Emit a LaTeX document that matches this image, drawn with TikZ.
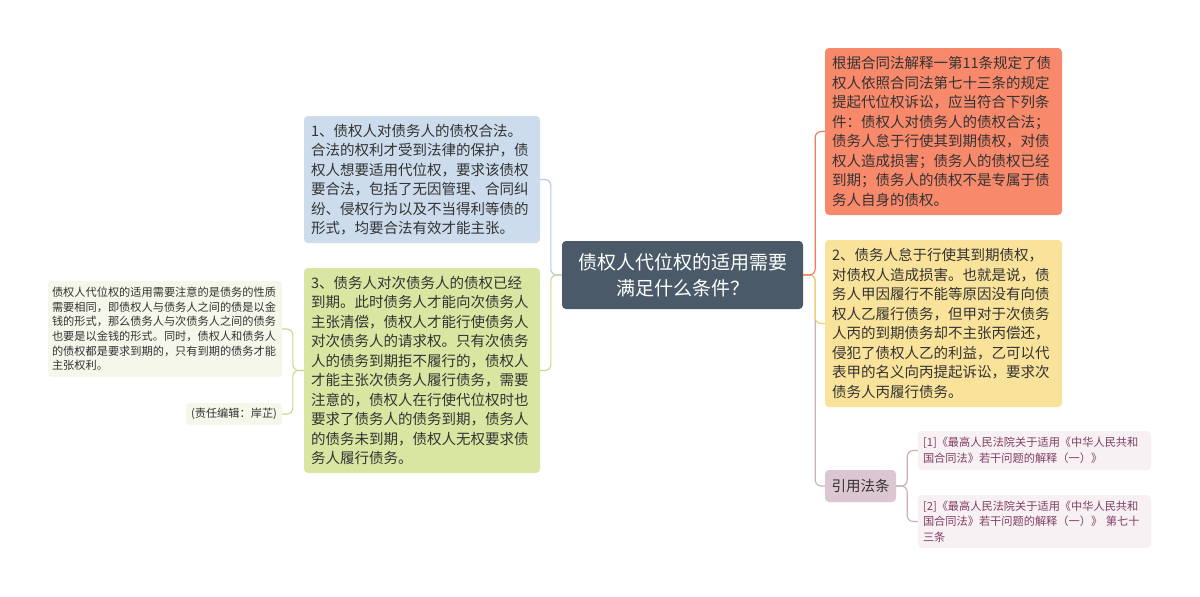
\documentclass[tikz,border=0pt]{standalone}
\usepackage{fontspec}
\setmainfont{Noto Sans CJK SC}
\definecolor{cCenter}{HTML}{4A5A68}
\definecolor{cBlue}{HTML}{CCDCEC}
\definecolor{cGreen}{HTML}{D8E6A2}
\definecolor{cRed}{HTML}{F8896B}
\definecolor{cYellow}{HTML}{F9E29A}
\definecolor{cMauve}{HTML}{DCC6D1}
\definecolor{cRefBg}{HTML}{F8F1F4}
\definecolor{cNoteBg}{HTML}{F5F7EA}
\definecolor{cText}{HTML}{333333}
\definecolor{cRefText}{HTML}{803E62}
\definecolor{lBlue}{HTML}{B4CBE2}
\definecolor{lGreen}{HTML}{C9DA8C}
\definecolor{lRed}{HTML}{F07A5C}
\definecolor{lYellow}{HTML}{F2CF6A}
\definecolor{lMauve}{HTML}{CCAEBD}
\begin{document}
\begin{tikzpicture}[x=1pt,y=-1pt,
  box/.style={rounded corners=4pt, inner xsep=7pt, inner ysep=0pt, align=left, text=cText, anchor=center, font=\fontsize{14.5}{19.5}\selectfont},
  small/.style={rounded corners=4pt, inner xsep=5pt, inner ysep=0pt, align=left, anchor=center, font=\fontsize{11.2}{15.5}\selectfont},
  link/.style={line width=1.1pt, rounded corners=6pt}]
\useasboundingbox (0,0) rectangle (1200,597);
\fill[white] (0,0) rectangle (1200,597);

% center
\node[rounded corners=4pt, fill=cCenter, text=white, align=center, minimum width=241pt, minimum height=68pt, inner sep=0pt, font=\fontsize{19}{26}\selectfont] (c) at (682.5,275) {债权人代位权的适用需要\\满足什么条件？};

% left
\node[box, fill=cBlue, text width=222pt, minimum height=127pt] (n1) at (422,179.5) {1、债权人对债务人的债权合法。\\合法的权利才受到法律的保护，债\\权人想要适用代位权，要求该债权\\要合法，包括了无因管理、合同纠\\纷、侵权行为以及不当得利等债的\\形式，均要合法有效才能主张。};
\node[box, fill=cGreen, text width=222pt, minimum height=205pt] (n3) at (422,370.5) {3、债务人对次债务人的债权已经\\到期。此时债务人才能向次债务人\\主张清偿，债权人才能行使债务人\\对次债务人的请求权。只有次债务\\人的债务到期拒不履行的，债权人\\才能主张次债务人履行债务，需要\\注意的，债权人在行使代位权时也\\要求了债务人的债务到期，债务人\\的债务未到期，债权人无权要求债\\务人履行债务。};
\node[small, fill=cNoteBg, text=cText, text width=226pt, inner xsep=4pt, minimum height=96pt, font=\fontsize{11.2}{14.6}\selectfont] (note) at (165,329) {债权人代位权的适用需要注意的是债务的性质\\需要相同，即债权人与债务人之间的债是以金\\钱的形式，那么债务人与次债务人之间的债务\\也要是以金钱的形式。同时，债权人和债务人\\的债权都是要求到期的，只有到期的债务才能\\主张权利。};
\node[small, fill=cNoteBg, text=cText, minimum width=96pt, minimum height=22pt, align=center, font=\fontsize{11.2}{14}\selectfont] (ed) at (234,414) {(责任编辑：岸芷)};

% right
\node[box, fill=cRed, text width=223pt, minimum height=167pt] (r1) at (943.5,131.5) {根据合同法解释一第11条规定了债\\权人依照合同法第七十三条的规定\\提起代位权诉讼，应当符合下列条\\件：债权人对债务人的债权合法；\\债务人怠于行使其到期债权，对债\\权人造成损害；债务人的债权已经\\到期；债务人的债权不是专属于债\\务人自身的债权。};
\node[box, fill=cYellow, text width=223pt, minimum height=167pt] (r2) at (943.5,323.5) {2、债务人怠于行使其到期债权，\\对债权人造成损害。也就是说，债\\务人甲因履行不能等原因没有向债\\权人乙履行债务，但甲对于次债务\\人丙的到期债务却不主张丙偿还，\\侵犯了债权人乙的利益，乙可以代\\表甲的名义向丙提起诉讼，要求次\\债务人丙履行债务。};
\node[box, fill=cMauve, inner xsep=0pt, minimum width=71pt, minimum height=32pt, align=center] (yf) at (860.5,486) {引用法条};
\node[small, fill=cRefBg, text=cRefText, text width=223pt, minimum height=39pt] (f1) at (1034.5,450.5) {[1]《最高人民法院关于适用《中华人民共和\\国合同法》若干问题的解释（一）》};
\node[small, fill=cRefBg, text=cRefText, text width=223pt, minimum height=53pt] (f2) at (1034.5,521.5) {[2]《最高人民法院关于适用《中华人民共和\\国合同法》若干问题的解释（一）》 第七十\\三条};

% connectors
\draw[link, draw=lBlue] (c.west) -- ++(-11,0) |- (n1.east);
\draw[link, draw=lGreen] (c.west) -- ++(-11,0) |- (n3.east);
\draw[link, draw=lGreen] (n3.west) -- ++(-11,0) |- (note.east);
\draw[link, draw=lGreen] (n3.west) -- ++(-11,0) |- (ed.east);
\draw[link, draw=lMauve] (c.east) -- ++(12,0) |- (yf.west);
\draw[link, draw=lYellow] (c.east) -- ++(12,0) |- (r2.west);
\draw[link, draw=lRed] (c.east) -- ++(12,0) |- (r1.west);
\draw[link, draw=lMauve] (yf.east) -- ++(11,0) |- (f1.west);
\draw[link, draw=lMauve] (yf.east) -- ++(11,0) |- (f2.west);
\end{tikzpicture}
\end{document}
